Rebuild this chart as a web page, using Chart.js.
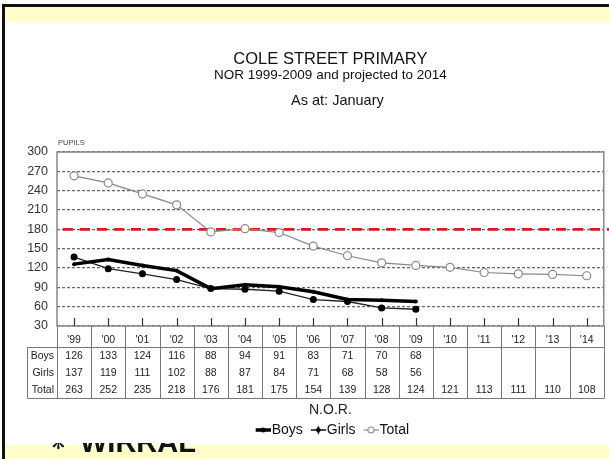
<!DOCTYPE html>
<html>
<head>
<meta charset="utf-8">
<title>Cole Street Primary NOR</title>
<script src="https://cdn.jsdelivr.net/npm/chart.js@4.4.0/dist/chart.umd.min.js"></script>
<style>
  html, body { margin: 0; padding: 0; background: #fff; }
  body { width: 609px; height: 459px; position: relative; overflow: hidden; font-family: 'Liberation Sans', Arial, sans-serif; }
  .frame-top { position: absolute; left: 2px; top: 4px; width: 607px; height: 3px; background: #111; }
  .frame-left { position: absolute; left: 2px; top: 4px; width: 3px; height: 455px; background: #111; }
  .band { position: absolute; left: 5px; width: 604px; background: #fffdc9; z-index: 2; }
  .band.top { top: 7px; height: 15px; }
  .band.bottom { top: 445px; height: 14px; }
  #chart { position: absolute; left: 6px; top: 22px; width: 603px; height: 437px; z-index: 1; }
  .logo { position: absolute; left: 46px; top: 443px; width: 170px; height: 16px; overflow: hidden; z-index: 3; color: #111; }
  .logo span { position: absolute; line-height: 28px; white-space: nowrap; }
  .logo .mark { left: 4px; font: 20px 'DejaVu Sans', sans-serif; top: -13px; }
  .logo .name { left: 34px; top: -17px; font: bold 29px 'Liberation Sans', Arial, sans-serif; }
</style>
</head>
<body>
<div class="frame-top"></div>
<div class="frame-left"></div>
<div class="band top"></div>
<canvas id="chart" width="603" height="437"></canvas>
<div class="band bottom"></div>
<div class="logo"><span class="mark">❋</span><span class="name">WIRRAL</span></div>

<script>
// NOR values
const years = ["'99", "'00", "'01", "'02", "'03", "'04", "'05", "'06", "'07", "'08", "'09", "'10", "'11", "'12", "'13", "'14"];
const boys = [126, 133, 124, 116, 88, 94, 91, 83, 71, 70, 68];
const girls = [137, 119, 111, 102, 88, 87, 84, 71, 68, 58, 56];
const total = [263, 252, 235, 218, 176, 181, 175, 154, 139, 128, 124, 121, 113, 111, 110, 108];
const yTicks = [30, 60, 90, 120, 150, 180, 210, 240, 270, 300];
const capacityLevel = 180;

Chart.defaults.font.family = "'Liberation Sans', Arial, sans-serif";
Chart.defaults.color = '#222';

// little legend icons: line with marker, like the original key
function legendIcon(kind) {
  const c = document.createElement('canvas');
  c.width = 25; c.height = 14;
  const g = c.getContext('2d');
  const cy = 7, cx = 17.5;
  g.beginPath(); g.moveTo(10, cy); g.lineTo(25, cy);
  if (kind === 'boys') { g.strokeStyle = '#000'; g.lineWidth = 3.5; }
  else if (kind === 'girls') { g.strokeStyle = '#000'; g.lineWidth = 1.4; }
  else { g.strokeStyle = '#888'; g.lineWidth = 1.2; }
  g.stroke();
  g.beginPath();
  if (kind === 'boys') {
    g.arc(cx, cy, 2.5, 0, Math.PI * 2); g.fillStyle = '#000'; g.fill();
  } else if (kind === 'girls') {
    g.moveTo(cx, cy - 4.5); g.lineTo(cx + 2, cy); g.lineTo(cx, cy + 4.5); g.lineTo(cx - 2, cy); g.closePath();
    g.fillStyle = '#000'; g.fill();
    g.beginPath(); g.arc(cx, cy, 2.2, 0, Math.PI * 2); g.fill();
  } else {
    g.arc(cx, cy, 3, 0, Math.PI * 2); g.fillStyle = '#fff'; g.fill();
    g.strokeStyle = '#888'; g.lineWidth = 1.1; g.stroke();
  }
  return c;
}
const legendIcons = [legendIcon('boys'), legendIcon('girls'), legendIcon('total')];

function line(ctx, x1, y1, x2, y2) {
  ctx.beginPath(); ctx.moveTo(x1, y1); ctx.lineTo(x2, y2); ctx.stroke();
}

// red capacity line, plot frame, data table and the extra labels
const norTable = {
  id: 'norTable',
  beforeDatasetsDraw(chart) {
    const { ctx, chartArea, scales: { y } } = chart;
    const yy = y.getPixelForValue(capacityLevel);
    ctx.save();
    ctx.strokeStyle = '#e8161c';
    ctx.lineWidth = 2.6;
    ctx.setLineDash([10, 7]);
    line(ctx, chartArea.left + 6, yy, chart.width, yy);
    ctx.restore();
  },
  afterDraw(chart) {
    const { ctx, chartArea, scales: { x } } = chart;
    const step = x.getPixelForValue(1) - x.getPixelForValue(0);
    const top = chartArea.bottom;
    const headBottom = Math.round(top + 20.7) + 0.5;
    const rowH = 16.8;
    const bottom = Math.round(headBottom + rowH * 3) + 0.5;
    const labelLeft = 21.5;

    ctx.save();
    // plot frame
    ctx.strokeStyle = '#888';
    ctx.lineWidth = 1.5;
    ctx.strokeRect(chartArea.left, chartArea.top, chartArea.right - chartArea.left, chartArea.bottom - chartArea.top);

    // tick marks at category centres
    ctx.strokeStyle = '#333';
    ctx.lineWidth = 1.2;
    years.forEach((yr, i) => {
      const cx = Math.round(x.getPixelForValue(i)) + 0.5;
      line(ctx, cx, top, cx, top - 8);
    });

    // table grid
    ctx.strokeStyle = '#777';
    ctx.lineWidth = 1;
    line(ctx, labelLeft, headBottom, chartArea.right, headBottom);
    line(ctx, labelLeft, bottom, chartArea.right, bottom);
    line(ctx, labelLeft, headBottom, labelLeft, bottom);
    for (let i = 0; i <= years.length; i++) {
      const bx = Math.round(x.getPixelForValue(0) - step / 2 + i * step) + 0.5;
      line(ctx, bx, top, bx, bottom);
    }

    // table text
    ctx.fillStyle = '#222';
    ctx.font = "10.5px 'Liberation Sans', Arial, sans-serif";
    ctx.textBaseline = 'middle';
    ctx.textAlign = 'center';
    years.forEach((yr, i) => ctx.fillText(yr, x.getPixelForValue(i), top + 14));
    const rows = [['Boys', boys], ['Girls', girls], ['Total', total]];
    rows.forEach(([label, vals], r) => {
      const cy = headBottom + rowH * (r + 0.5) + 0.5;
      ctx.textAlign = 'right';
      ctx.fillText(label, chartArea.left - 3, cy);
      ctx.textAlign = 'center';
      vals.forEach((v, i) => ctx.fillText(String(v), x.getPixelForValue(i), cy));
    });

    // axis caption and the date line under the subtitle
    ctx.fillStyle = '#444';
    ctx.textAlign = 'left';
    ctx.font = "7.5px 'Liberation Sans', Arial, sans-serif";
    ctx.fillText('PUPILS', chartArea.left + 1, chartArea.top - 9);

    ctx.fillStyle = '#111';
    ctx.textAlign = 'center';
    ctx.font = "14.5px 'Liberation Sans', Arial, sans-serif";
    ctx.fillText('As at: January', (chartArea.left + chartArea.right) / 2 + 7, 79);
    ctx.restore();
  }
};

new Chart(document.getElementById('chart'), {
  type: 'line',
  data: {
    labels: years,
    datasets: [{
      label: 'Boys',
      data: boys,
      borderColor: '#000',
      backgroundColor: '#000',
      borderWidth: 3.5,
      pointRadius: 2,
      pointBackgroundColor: '#000',
      pointBorderWidth: 0,
      tension: 0
    }, {
      label: 'Girls',
      data: girls,
      borderColor: '#222',
      backgroundColor: '#000',
      borderWidth: 1.3,
      pointRadius: 3.5,
      pointBackgroundColor: '#000',
      pointBorderColor: '#000',
      pointBorderWidth: 0,
      tension: 0
    }, {
      label: 'Total',
      data: total,
      borderColor: '#888',
      backgroundColor: '#fff',
      borderWidth: 1.2,
      pointRadius: 4,
      pointBackgroundColor: '#fff',
      pointBorderColor: '#888',
      pointBorderWidth: 1.2,
      tension: 0
    }]
  },
  options: {
    responsive: false,
    animation: false,
    devicePixelRatio: 1,
    layout: { padding: { left: 0, right: 4, top: 0, bottom: 12 } },
    plugins: {
      title: {
        display: true,
        fullSize: false,
        text: 'COLE STREET PRIMARY',
        color: '#111',
        font: { size: 16.5, weight: 'normal', lineHeight: 1 },
        padding: { top: 29, bottom: 0 }
      },
      subtitle: {
        display: true,
        fullSize: false,
        text: 'NOR 1999-2009 and projected to 2014',
        color: '#111',
        font: { size: 13.5, lineHeight: 1 },
        padding: { top: 1.5, bottom: 69.5 }
      },
      legend: {
        position: 'bottom',
        fullSize: false,
        labels: {
          color: '#111',
          font: { size: 14 },
          usePointStyle: true,
          pointStyleWidth: 13,
          padding: 4,
          generateLabels: chart => Chart.defaults.plugins.legend.labels.generateLabels(chart)
            .map((item, i) => Object.assign(item, { pointStyle: legendIcons[i] }))
        }
      },
      tooltip: { enabled: false }
    },
    scales: {
      x: {
        offset: true,
        grid: { display: false },
        border: { display: false },
        ticks: { display: false },
        title: {
          display: true,
          text: 'N.O.R.',
          color: '#222',
          font: { size: 14, lineHeight: 1 },
          padding: { top: 0, bottom: 2 }
        },
        afterFit: scale => { scale.height = 93; }
      },
      y: {
        min: 30,
        max: 300,
        afterBuildTicks: scale => { scale.ticks = yTicks.map(v => ({ value: v })); },
        grid: { color: '#666', lineWidth: 1.2, drawTicks: false },
        border: { display: false, dash: [3, 2] },
        ticks: { padding: 9, color: '#333', font: { size: 12.5 } },
        afterFit: scale => { scale.width = 51; }
      }
    }
  },
  plugins: [norTable]
});
</script>
</body>
</html>
